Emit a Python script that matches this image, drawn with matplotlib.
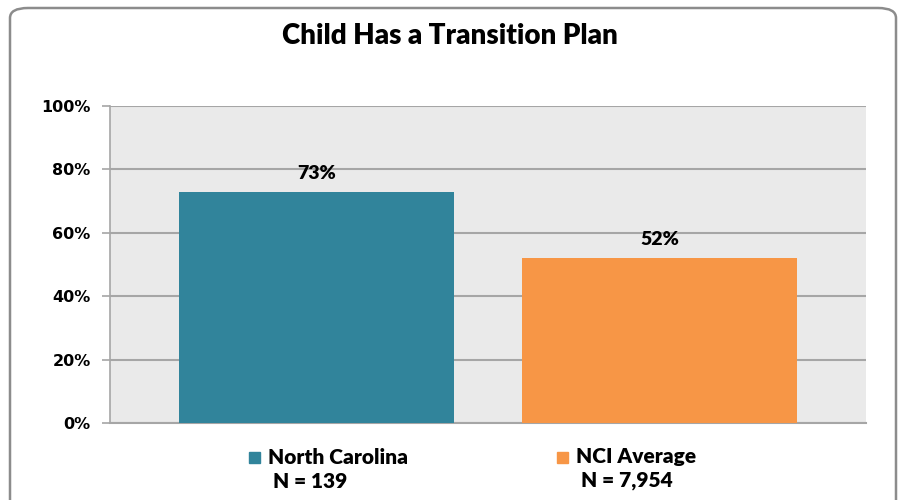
import matplotlib
matplotlib.use("Agg")
import matplotlib.pyplot as plt
from matplotlib.patches import FancyBboxPatch, Rectangle

categories = ["North Carolina", "NCI Average"]
values = [73, 52]
n_labels = ["N = 139", "N = 7,954"]
value_labels = ["73%", "52%"]
colors = ["#31849B", "#F79646"]
yticks = [0, 20, 40, 60, 80, 100]
ytick_labels = ["0%", "20%", "40%", "60%", "80%", "100%"]
title = "Child Has a Transition Plan"

TXT = ["Lato", "DejaVu Sans"]
W = "heavy"

fig = plt.figure(figsize=(9, 5), dpi=100)
fig.patch.set_facecolor("white")

# outer rounded frame
frame = FancyBboxPatch((10/900, -0.1), 886/900, 1 - 8/500 + 0.1,
                       boxstyle="round,pad=0,rounding_size=0.02",
                       transform=fig.transFigure, fill=False,
                       edgecolor="#8C8C8C", linewidth=1.8, zorder=0)
fig.patches.append(frame)

ax = fig.add_axes([110/900, 1 - 423/500, 756/900, 317/500])
ax.set_facecolor("#EAEAEA")
x = list(range(len(categories)))
ax.bar(x, values, width=0.8, color=colors, zorder=3)
ax.set_xlim(-0.6, 1.6)
ax.set_ylim(0, 100)
ax.set_yticks(yticks)
ax.set_yticklabels(ytick_labels, fontfamily="DejaVu Sans", fontweight="bold", fontsize=11.5)
ax.set_xticks([])
ax.yaxis.grid(True, color="#A6A6A6", linewidth=1.5, zorder=1)
ax.set_axisbelow(True)
for s in ["top", "right"]:
    ax.spines[s].set_visible(False)
ax.spines["left"].set_color("#A6A6A6")
ax.spines["bottom"].set_color("#A6A6A6")
ax.spines["left"].set_linewidth(1.2)
ax.spines["bottom"].set_linewidth(1.5)
ax.tick_params(axis="y", length=6, color="#A6A6A6", width=1.2, pad=8)

for xi, v, lab in zip(x, values, value_labels):
    ax.annotate(lab, (xi, v), xytext=(0, 7), textcoords="offset points",
                ha="center", va="bottom", fontsize=14, fontweight=W,
                family=TXT)

fig.text(0.5, 1 - 36/500, title, ha="center", va="center", fontsize=20,
         fontweight=W, family=TXT)

# legend
leg_x = [249, 557]
for lx, c, name, nl in zip(leg_x, colors, categories, n_labels):
    fig.patches.append(Rectangle((lx/900, 1 - 463/500), 11/900, 11/500,
                                 transform=fig.transFigure, color=c))
    fig.text((lx + 19)/900, 1 - 457/500, name, ha="left", va="center",
             fontsize=15, fontweight=W, family=TXT)
    fig.text((lx + 24)/900, 1 - 481/500, nl, ha="left", va="center",
             fontsize=15, fontweight=W, family=TXT)

fig.savefig("out.png", dpi=100)
